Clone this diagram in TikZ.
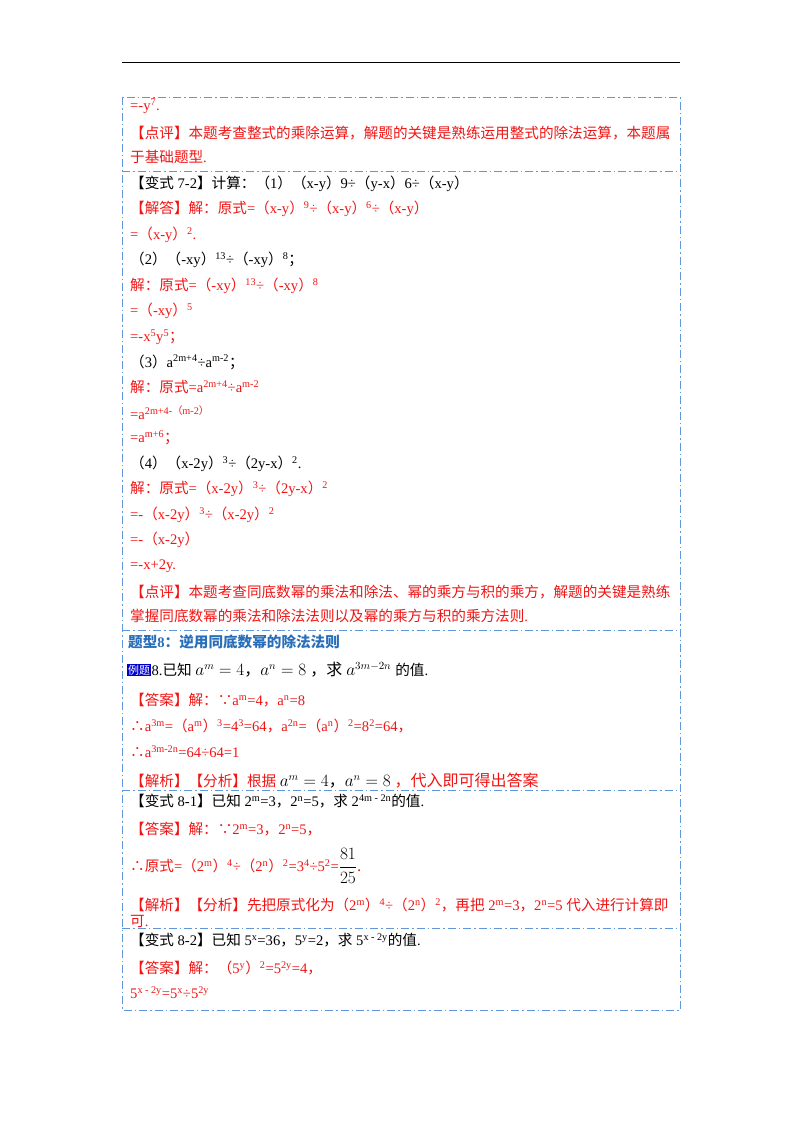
\documentclass[tikz,border=0pt]{standalone}
\usepackage{fontspec}
\setmainfont{Liberation Serif}
\newfontfamily\cjk{Noto Sans CJK SC}
\XeTeXinterchartokenstate=1
\newXeTeXintercharclass\cjkcls
\makeatletter
\def\setcls#1#2{\count@=#1\relax\loop\XeTeXcharclass\count@=\cjkcls\ifnum\count@<#2\advance\count@ 1\repeat}
\setcls{"4E00}{"9FFF}\setcls{"3000}{"303F}\setcls{"FF00}{"FFEF}\setcls{"2234}{"2235}
\makeatother
\XeTeXinterchartoks 0 \cjkcls={\begingroup\cjk}
\XeTeXinterchartoks 4095 \cjkcls={\begingroup\cjk}
\XeTeXinterchartoks \cjkcls 0={\endgroup}
\XeTeXinterchartoks \cjkcls 4095={\endgroup}
\newcommand\su[1]{\textsuperscript{#1}}
\definecolor{bx}{RGB}{95,150,220}
\definecolor{rd}{RGB}{240,20,20}
\definecolor{hd}{RGB}{40,110,185}
\begin{document}
\begin{tikzpicture}[x=1pt,y=-1pt,
  t/.style={anchor=west,inner sep=0pt,font=\fontsize{14.6}{16}\selectfont},
  r/.style={t,text=rd},
  b/.style={t,text=black},
  box/.style={draw=bx,line width=1pt,dash pattern=on 8pt off 3pt on 1.5pt off 3pt}]
\useasboundingbox (0,0) rectangle (800,1132);
\draw[line width=1pt] (122,63) coordinate (ra) -- (680,63) coordinate (rb);
\draw[box] (122,97) rectangle (680,1010);
\foreach \yy in {171,630,790,928} \draw[box] (122,\yy) -- (680,\yy);
\node[r] (l1) at (130,106) {=-y\su{7}.};
\node[r] (l2) at (130,133) {【点评】本题考查整式的乘除运算，解题的关键是熟练运用整式的除法运算，本题属};
\node[r] (l3) at (130,157) {于基础题型.};
\node[b] (l4) at (130,184) {【变式 7-2】计算：（1）（x-y）9÷（y-x）6÷（x-y）};
\node[r] (l5) at (130,209) {【解答】解：原式=（x-y）\su9÷（x-y）\su6÷（x-y）};
\node[r] (l6) at (130,235) {=（x-y）\su2.};
\node[b] (l7) at (130,260) {（2）（-xy）\su{13}÷（-xy）\su8；};
\node[r] (l8) at (130,286) {解：原式=（-xy）\su{13}÷（-xy）\su8};
\node[r] (l9) at (130,311) {=（-xy）\su5};
\node[r] (l10) at (130,337) {=-x\su5y\su5；};
\node[b] (l11) at (130,362) {（3）a\su{2m+4}÷a\su{m-2}；};
\node[r] (l12) at (130,387) {解：原式=a\su{2m+4}÷a\su{m-2}};
\node[r] (l13) at (130,413) {=a\su{2m+4-（m-2）}};
\node[r] (l14) at (130,438) {=a\su{m+6}；};
\node[b] (l15) at (130,464) {（4）（x-2y）\su3÷（2y-x）\su2.};
\node[r] (l16) at (130,489) {解：原式=（x-2y）\su3÷（2y-x）\su2};
\node[r] (l17) at (130,515) {=-（x-2y）\su3÷（x-2y）\su2};
\node[r] (l18) at (130,540) {=-（x-2y）};
\node[r] (l19) at (130,566) {=-x+2y.};
\node[r] (l20) at (130,592) {【点评】本题考查同底数幂的乘法和除法、幂的乘方与积的乘方，解题的关键是熟练};
\node[r] (l21) at (130,616) {掌握同底数幂的乘法和除法法则以及幂的乘方与积的乘方法则.};
\node[t,text=hd,font=\fontsize{14.6}{16}\selectfont\bfseries] (h8) at (128,642) {题型8：逆用同底数幂的除法法则};
\node[anchor=west,fill=blue!80!black,text=white,inner sep=1pt,font=\fontsize{11}{12}\selectfont] (ex) at (127,670) {例题};
\node[b,anchor=west] (l23) at (ex.east) {8.已知 \fontsize{16}{18}\selectfont$a^m=4$，$a^n=8$ ，求 $a^{3m-2n}$ \fontsize{14.6}{16}\selectfont 的值.};
\node[r] (l24) at (130,700) {【答案】解：∵a\su m=4，a\su n=8};
\node[r] (l25) at (130,726) {∴a\su{3m}=（a\su m）\su3=4\su3=64，a\su{2n}=（a\su n）\su2=8\su2=64，};
\node[r] (l26) at (130,752) {∴a\su{3m-2n}=64÷64=1};
\node[r] (l27) at (130,781) {【解析】【分析】根据 \fontsize{16}{18}\selectfont{\color{black}$a^m=4$，$a^n=8$} ，代入即可得出答案};
\node[b] (l28) at (130,801) {【变式 8-1】已知 2\su m=3，2\su n=5，求 2\su{4m - 2n}的值.};
\node[r] (l29) at (130,829) {【答案】解：∵2\su m=3，2\su n=5，};
\node[r] (l30) at (130,866) {∴原式=（2\su m）\su4÷（2\su n）\su2=3\su4÷5\su2=\fontsize{17}{18}\selectfont{\color{black}$\displaystyle\frac{81}{25}$}.};
\node[r] (l31) at (130,905) {【解析】【分析】先把原式化为（2\su m）\su4÷（2\su n）\su2，再把 2\su m=3，2\su n=5 代入进行计算即};
\node[r] (l32) at (130,921) {可.};
\node[b] (l33) at (130,940) {【变式 8-2】已知 5\su x=36，5\su y=2，求 5\su{x - 2y}的值.};
\node[r] (l34) at (130,968) {【答案】解：（5\su y）\su2=5\su{2y}=4，};
\node[r] (l35) at (130,993) {5\su{x - 2y}=5\su x÷5\su{2y}};
\end{tikzpicture}
\end{document}
